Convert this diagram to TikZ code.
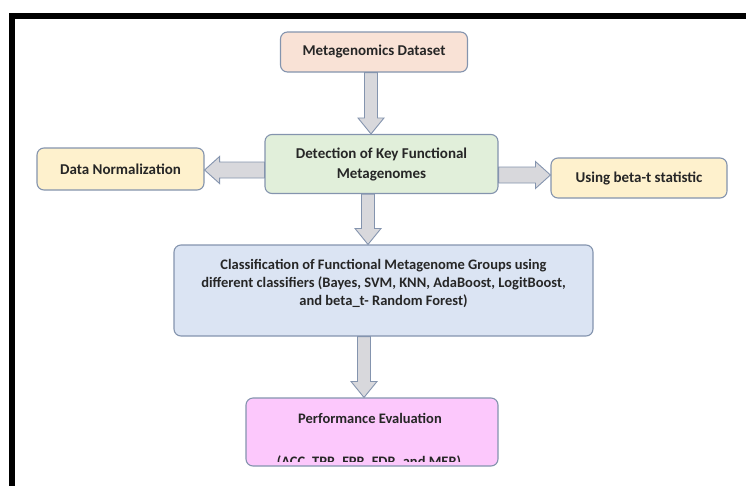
\documentclass[tikz,border=0pt]{standalone}
\usepackage{fontspec}
\setmainfont{Carlito}[BoldFont={Carlito Bold}]
\usetikzlibrary{calc}
\definecolor{bord}{HTML}{8494AE}
\definecolor{peach}{HTML}{F9E2D6}
\definecolor{greenf}{HTML}{E1EFDA}
\definecolor{yell}{HTML}{FEF1CD}
\definecolor{bluef}{HTML}{DBE4F3}
\definecolor{pinkf}{HTML}{FCC8FC}
\definecolor{arrf}{HTML}{D8D8DC}
\tikzset{
  box/.style={draw=bord, line width=1.1pt, rounded corners=7pt, inner sep=0pt, align=center,
    font=\bfseries\fontsize{15}{20}\selectfont, text=black!85},
  txt/.style={inner sep=0pt, align=center, font=\bfseries\fontsize{14.5}{18}\selectfont, text=black!85},
  barrow/.style={draw=bord, fill=arrf, line width=0.9pt, line join=miter}
}
\newcommand\varrow[3]{% x-coordinate name, from, to
  \path[barrow] let \p0=(#1), \p1=(#2), \p2=(#3) in
    (\x0-6.5pt,\y1) -- (\x0-6.5pt,\y2+16pt) -- (\x0-13pt,\y2+16pt) -- (\x0,\y2)
    -- (\x0+13pt,\y2+16pt) -- (\x0+6.5pt,\y2+16pt) -- (\x0+6.5pt,\y1) -- cycle;}
\newcommand\harrow[3]{% y-coordinate name, from, to
  \path[barrow] let \p0=(#1), \p1=(#2), \p2=(#3), \n1={sign(\x2-\x1)} in
    (\x1,\y0-8pt) -- (\x2-\n1*15pt,\y0-8pt) -- (\x2-\n1*15pt,\y0-13.5pt) -- (\x2,\y0)
    -- (\x2-\n1*15pt,\y0+13.5pt) -- (\x2-\n1*15pt,\y0+8pt) -- (\x1,\y0+8pt) -- cycle;}
\begin{document}
\begin{tikzpicture}[x=1pt,y=-1pt]
\useasboundingbox (0,0) rectangle (746,485);
\begin{scope}
\clip (0,0) rectangle (746,485);
\draw[line width=6pt] (12,16) rectangle (749,495);
\end{scope}
\node[box, fill=peach, minimum width=187pt, minimum height=40pt] (top) at (374,52) {Metagenomics Dataset};
\node[box, fill=greenf, minimum width=233pt, minimum height=59pt] (det) at (381.5,164) {Detection of Key Functional\\Metagenomes};
\node[box, fill=yell, minimum width=167pt, minimum height=42pt] (norm) at (120.5,169) {Data Normalization};
\node[box, fill=yell, minimum width=176pt, minimum height=40pt] (beta) at (639,178) {Using beta-t statistic};
\node[box, fill=bluef, minimum width=419pt, minimum height=91pt] (cls) at (383.5,290.5) {};
\node[txt] (clst) at (383.5,283) {Classification of Functional Metagenome Groups using\\different classifiers (Bayes, SVM, KNN, AdaBoost, LogitBoost,\\and beta\_t- Random Forest)};
\node[box, fill=pinkf, minimum width=252pt, minimum height=68pt] (perf) at (372,432) {};
\node[txt] (perft) at (370,418) {Performance Evaluation};
\begin{scope}
\clip (250,400) rectangle (495,461.5);
\node[txt] (perfm) at (369,462) {(ACC, TPR, FPR, FDR, and MER)};
\end{scope}
\coordinate (xa) at (371,0);
\coordinate (xb) at (368,0);
\coordinate (xc) at (364,0);
\coordinate (ya) at (0,170);
\coordinate (yb) at (0,175);
\varrow{xa}{top.south}{det.north}
\varrow{xb}{det.south}{cls.north}
\varrow{xc}{cls.south}{perf.north}
\harrow{ya}{det.west}{norm.east}
\harrow{yb}{det.east}{beta.west}
\end{tikzpicture}
\end{document}
